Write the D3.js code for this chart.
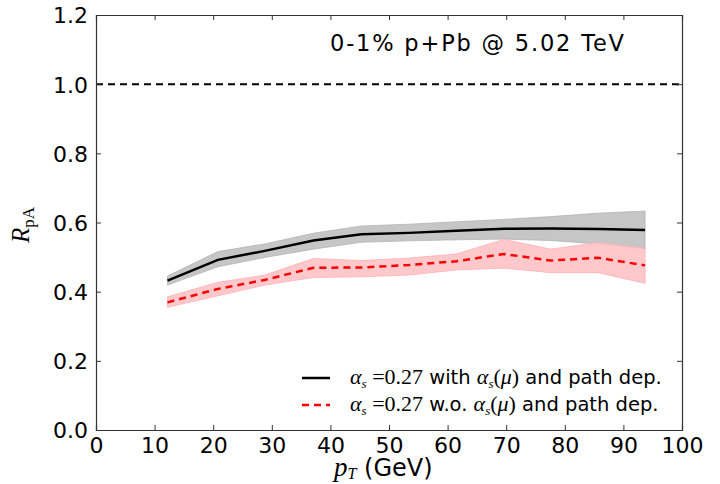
<!DOCTYPE html>
<html>
<head>
<meta charset="utf-8">
<script src="https://cdn.jsdelivr.net/npm/d3@7"></script>
<style>
  body { margin: 0; background: #fff; }
  text { font-family: "DejaVu Sans", sans-serif; fill: #000; }
  .math { font-family: "Liberation Serif", "DejaVu Serif", serif; }
</style>
</head>
<body>
<script>
// pT bins (GeV)
const pt = [12.2, 20.8, 28.8, 37.1, 45.3, 53.4, 61.5, 69.6, 77.6, 85.7, 93.7];

// alpha_s = 0.27 with alpha_s(mu) and path dep. (black)
const rWith = [0.432, 0.492, 0.518, 0.548, 0.566, 0.570, 0.576, 0.582, 0.583, 0.581, 0.578];
const rWithLo = [0.419, 0.472, 0.499, 0.523, 0.543, 0.547, 0.550, 0.552, 0.548, 0.538, 0.523];
const rWithHi = [0.445, 0.516, 0.538, 0.569, 0.590, 0.595, 0.602, 0.609, 0.617, 0.627, 0.633];

// alpha_s = 0.27 w.o. alpha_s(mu) and path dep. (red dashed)
const rWo = [0.369, 0.408, 0.434, 0.469, 0.470, 0.477, 0.488, 0.509, 0.490, 0.498, 0.476];
const rWoLo = [0.355, 0.388, 0.419, 0.441, 0.443, 0.448, 0.463, 0.468, 0.455, 0.455, 0.424];
const rWoHi = [0.385, 0.427, 0.448, 0.496, 0.490, 0.497, 0.509, 0.551, 0.523, 0.542, 0.525];

const xTicks = [0, 10, 20, 30, 40, 50, 60, 70, 80, 90, 100];
const yTicks = [0.0, 0.2, 0.4, 0.6, 0.8, 1.0, 1.2];

const W = 720, H = 484;
const margin = {top: 15, right: 38, bottom: 54, left: 96};
const width = W - margin.left - margin.right;
const height = H - margin.top - margin.bottom;

const svg = d3.select("body").append("svg")
  .attr("width", W)
  .attr("height", H);

const g = svg.append("g")
  .attr("transform", "translate(" + margin.left + "," + margin.top + ")");

const x = d3.scaleLinear().domain([0, 100]).range([0, width]);
const y = d3.scaleLinear().domain([0, 1.2]).range([height, 0]);

function rows(lo, mid, hi) {
  return pt.map(function(p, i) { return {x: p, lo: lo[i], y: mid[i], hi: hi[i]}; });
}
const dWith = rows(rWithLo, rWith, rWithHi);
const dWo = rows(rWoLo, rWo, rWoHi);

const area = d3.area()
  .x(function(d) { return x(d.x); })
  .y0(function(d) { return y(d.lo); })
  .y1(function(d) { return y(d.hi); });
const line = d3.line()
  .x(function(d) { return x(d.x); })
  .y(function(d) { return y(d.y); });

// bands
g.append("path").datum(dWith)
  .attr("d", area)
  .attr("fill", "#c6c6c6")
  .attr("stroke", "#b4b4b4")
  .attr("stroke-width", 0.8);
g.append("path").datum(dWo)
  .attr("d", area)
  .attr("fill", "#ffc4c8")
  .attr("fill-opacity", 0.92)
  .attr("stroke", "#ffb0b6")
  .attr("stroke-width", 0.8);

// central lines
g.append("path").datum(dWith)
  .attr("d", line)
  .attr("fill", "none")
  .attr("stroke", "#000")
  .attr("stroke-width", 2.5);
g.append("path").datum(dWo)
  .attr("d", line)
  .attr("fill", "none")
  .attr("stroke", "#ff0000")
  .attr("stroke-width", 2.5)
  .attr("stroke-dasharray", "7,5");

// reference line at 1
g.append("line")
  .attr("x1", 0).attr("x2", width)
  .attr("y1", y(1)).attr("y2", y(1))
  .attr("stroke", "#000")
  .attr("stroke-width", 2)
  .attr("stroke-dasharray", "7,5");

// axes: ticks point inward on all sides
const tickLen = 5;
const xb = g.append("g").attr("transform", "translate(0," + height + ")")
  .call(d3.axisBottom(x).tickValues(xTicks).tickSize(-tickLen).tickPadding(6).tickFormat(d3.format("d")));
const xt = g.append("g")
  .call(d3.axisTop(x).tickValues(xTicks).tickSize(-tickLen).tickFormat(""));
const yl = g.append("g")
  .call(d3.axisLeft(y).tickValues(yTicks).tickSize(-tickLen).tickPadding(8).tickFormat(d3.format(".1f")));
const yr = g.append("g").attr("transform", "translate(" + width + ",0)")
  .call(d3.axisRight(y).tickValues(yTicks).tickSize(-tickLen).tickFormat(""));

[xb, xt, yl, yr].forEach(function(a) {
  a.select(".domain").attr("stroke", "#333").attr("stroke-width", 1.2);
  a.selectAll(".tick line").attr("stroke", "#333").attr("stroke-width", 1);
  a.selectAll(".tick text").attr("font-size", 22).attr("font-family", "DejaVu Sans").attr("fill", "#000");
});
xb.selectAll(".tick text").attr("dy", "0.75em");
yl.selectAll(".tick text").attr("dy", "0.36em");

// annotation
svg.append("text")
  .attr("x", 330)
  .attr("y", 51)
  .attr("font-size", 22.5)
  .attr("textLength", 294)
  .attr("lengthAdjust", "spacing")
  .text("0-1% p+Pb @ 5.02 TeV");

// axis labels
const xl = svg.append("text")
  .attr("x", 334)
  .attr("y", 476)
  .attr("font-size", 24);
xl.append("tspan").attr("class", "math").attr("font-style", "italic").attr("font-size", 27).text("p");
xl.append("tspan").attr("class", "math").attr("font-style", "italic").attr("font-size", 16).attr("dy", 3).text("T");
xl.append("tspan").attr("dy", -3).text(" (GeV)");

const ylab = svg.append("text")
  .attr("transform", "translate(29,243) rotate(-90)")
  .attr("font-size", 22);
ylab.append("tspan").attr("class", "math").attr("font-style", "italic").attr("font-size", 25).text("R");
ylab.append("tspan").attr("class", "math").attr("font-size", 17).attr("dy", 5).text("pA");

// legend
const legend = [
  {label: " with ", color: "#000", dash: null},
  {label: " w.o. ", color: "#ff0000", dash: "7,5"}
];
const lg = svg.append("g").attr("transform", "translate(302,378)");
legend.forEach(function(d, i) {
  const row = lg.append("g").attr("transform", "translate(0," + (i * 27) + ")");
  row.append("line")
    .attr("x1", 0).attr("x2", 28)
    .attr("stroke", d.color)
    .attr("stroke-width", 2.5)
    .attr("stroke-dasharray", d.dash);
  const t = row.append("text").attr("x", 48).attr("y", 5.5).attr("font-size", 19.5);
  t.append("tspan").attr("class", "math").attr("font-style", "italic").attr("font-size", 22).text("α");
  t.append("tspan").attr("class", "math").attr("font-style", "italic").attr("font-size", 13).attr("dy", 4).text("s");
  t.append("tspan").attr("class", "math").attr("font-size", 22).attr("dy", -4).text(" =0.27");
  t.append("tspan").text(d.label);
  t.append("tspan").attr("class", "math").attr("font-style", "italic").attr("font-size", 22).text("α");
  t.append("tspan").attr("class", "math").attr("font-style", "italic").attr("font-size", 13).attr("dy", 4).text("s");
  t.append("tspan").attr("class", "math").attr("font-size", 22).attr("dy", -4).text("(");
  t.append("tspan").attr("class", "math").attr("font-style", "italic").attr("font-size", 22).text("μ");
  t.append("tspan").attr("class", "math").attr("font-size", 22).text(")");
  t.append("tspan").text(" and path dep.");
});
</script>
</body>
</html>
